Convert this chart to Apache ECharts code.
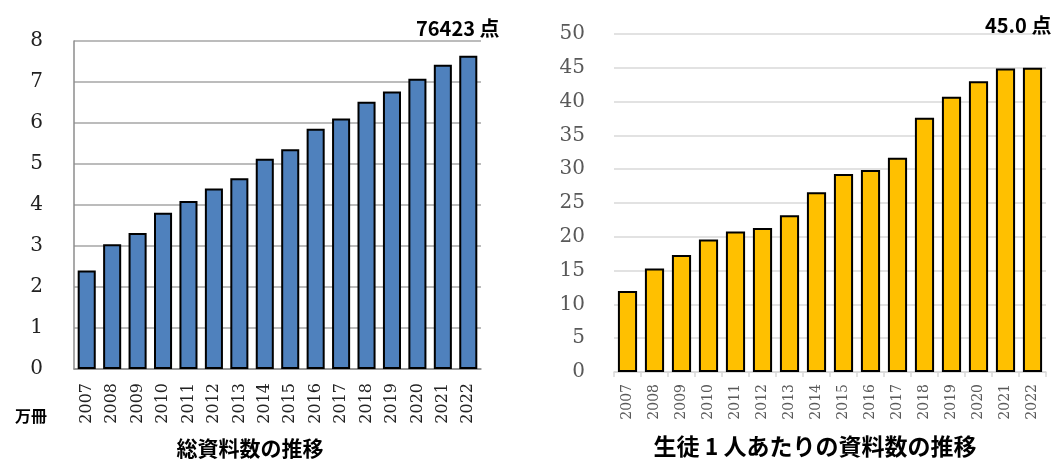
<!DOCTYPE html>
<html>
<head>
<meta charset="utf-8">
<script src="https://cdn.jsdelivr.net/npm/echarts@6/dist/echarts.min.js"></script>
<style>
  html, body { margin: 0; padding: 0; background: #fff; }
  #chart { width: 1053px; height: 462px; }
</style>
</head>
<body>
<div id="chart"></div>
<script>
// School library holdings, 2007–2022
const years = ['2007','2008','2009','2010','2011','2012','2013','2014','2015','2016','2017','2018','2019','2020','2021','2022'];
// Total items, in units of 10,000 volumes (万冊)
const totalItems = [2.40, 3.04, 3.32, 3.81, 4.10, 4.40, 4.65, 5.13, 5.36, 5.86, 6.11, 6.52, 6.77, 7.08, 7.42, 7.6423];
// Items per student
const perStudent = [12.0, 15.3, 17.3, 19.6, 20.8, 21.3, 23.2, 26.6, 29.3, 29.9, 31.7, 37.6, 40.7, 43.0, 44.9, 45.0];
const totalTicks = { min: 0, max: 8, interval: 1 };
const perStudentTicks = { min: 0, max: 50, interval: 5 };

const serif = 'DejaVu Serif';
const cjk = 'Noto Sans CJK JP';

const chart = echarts.init(document.getElementById('chart'));
chart.setOption({
  animation: false,
  backgroundColor: '#ffffff',
  title: [
    { text: '総資料数の推移', left: 245, top: 433, textAlign: 'center',
      textStyle: { fontFamily: cjk, fontSize: 21, fontWeight: 'bold', color: '#000' } },
    { text: '生徒 1 人あたりの資料数の推移', left: 810, top: 430, textAlign: 'center',
      textStyle: { fontFamily: cjk, fontSize: 23, fontWeight: 'bold', color: '#000' } },
    { text: '万冊', left: 10, top: 403,
      textStyle: { fontFamily: cjk, fontSize: 16, fontWeight: 'bold', color: '#000' } },
    { text: '76423 点', left: 411, top: 13,
      textStyle: { fontFamily: cjk, fontSize: 20, fontWeight: 'bold', color: '#000' } },
    { text: '45.0 点', left: 980, top: 10,
      textStyle: { fontFamily: cjk, fontSize: 20, fontWeight: 'bold', color: '#000' } }
  ],
  grid: [
    { left: 74, top: 41, width: 407, height: 328 },
    { left: 614, top: 34, width: 432, height: 338 }
  ],
  xAxis: [
    { type: 'category', gridIndex: 0, data: years,
      axisLine: { lineStyle: { color: '#8c8c8c', width: 1.5 } },
      axisTick: { show: false },
      axisLabel: { rotate: 90, margin: 14, fontFamily: serif, fontSize: 16, color: '#222' } },
    { type: 'category', gridIndex: 1, data: years,
      axisLine: { lineStyle: { color: '#d9d9d9', width: 1.5 } },
      axisTick: { show: true, length: 5, lineStyle: { color: '#d9d9d9', width: 1.5 } },
      axisLabel: { rotate: 90, margin: 12, fontFamily: serif, fontSize: 14, color: '#595959' } }
  ],
  yAxis: [
    { type: 'value', gridIndex: 0, min: totalTicks.min, max: totalTicks.max, interval: totalTicks.interval,
      axisLine: { show: true, lineStyle: { color: '#8c8c8c', width: 1.5 } },
      axisTick: { show: false },
      splitLine: { lineStyle: { color: '#a6a6a6', width: 1.5 } },
      axisLabel: { margin: 31, fontFamily: serif, fontSize: 20, color: '#222' } },
    { type: 'value', gridIndex: 1, min: perStudentTicks.min, max: perStudentTicks.max, interval: perStudentTicks.interval,
      axisLine: { show: false },
      axisTick: { show: false },
      splitLine: { lineStyle: { color: '#d9d9d9', width: 1.5 } },
      axisLabel: { margin: 29, fontFamily: serif, fontSize: 20, color: '#595959' } }
  ],
  series: [
    { type: 'bar', xAxisIndex: 0, yAxisIndex: 0, data: totalItems, barCategoryGap: '29%',
      itemStyle: { color: '#4f81bd', borderColor: '#000', borderWidth: 2 } },
    { type: 'bar', xAxisIndex: 1, yAxisIndex: 1, data: perStudent, barCategoryGap: '29%',
      itemStyle: { color: '#ffc000', borderColor: '#000', borderWidth: 2 } }
  ]
});
</script>
</body>
</html>
